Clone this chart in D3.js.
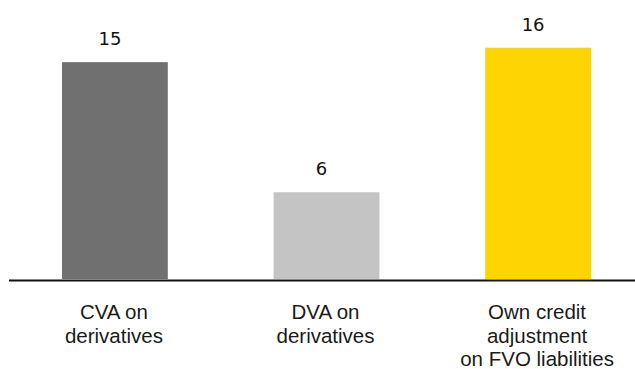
<!DOCTYPE html>
<html>
<head>
<meta charset="utf-8">
<script src="https://cdn.jsdelivr.net/npm/d3@7"></script>
<style>
  html, body { margin: 0; padding: 0; background: #fff; }
  svg { display: block; }
</style>
</head>
<body>
<svg id="chart" width="635" height="369"></svg>
<script>
// Valuation adjustments, by category
const categories = [
  ["CVA on", "derivatives"],
  ["DVA on", "derivatives"],
  ["Own credit", "adjustment", "on FVO liabilities"]
];
const values = [15, 6, 16];
const colors = ["#707070", "#c4c4c4", "#ffd500"];

const svg = d3.select("#chart");
const W = 635, H = 369;
const baseY = 279;

const x = d3.scaleBand()
  .domain(d3.range(values.length))
  .range([62, 591])
  .paddingInner(0.5)
  .paddingOuter(0);

const y = d3.scaleLinear()
  .domain([0, 16])
  .range([baseY, 47.7]);

// bars
svg.selectAll("rect.bar")
  .data(values)
  .join("rect")
  .attr("class", "bar")
  .attr("x", (d, i) => x(i))
  .attr("width", x.bandwidth())
  .attr("y", d => y(d))
  .attr("height", d => y(0) - y(d))
  .attr("fill", (d, i) => colors[i]);

// baseline
svg.append("line")
  .attr("x1", 9).attr("x2", W)
  .attr("y1", y(0) + 1.5).attr("y2", y(0) + 1.5)
  .attr("stroke", "#111")
  .attr("stroke-width", 2);

// value labels
svg.selectAll("text.val")
  .data(values)
  .join("text")
  .attr("class", "val")
  .attr("x", (d, i) => x(i) + x.bandwidth() / 2 - 5)
  .attr("y", d => y(d) - 17)
  .attr("text-anchor", "middle")
  .attr("font-family", "DejaVu Sans, sans-serif")
  .attr("font-size", 18)
  .attr("fill", "#111")
  .text(d => d);

// category labels, one text per line
const lines = categories.flatMap((ls, i) => ls.map((t, j) => ({ t, i, j })));
svg.selectAll("text.cat")
  .data(lines)
  .join("text")
  .attr("class", "cat")
  .attr("text-anchor", "middle")
  .attr("font-family", "Liberation Sans, Arial, sans-serif")
  .attr("font-size", 20.5)
  .attr("fill", "#1a1a1a")
  .attr("x", d => x(d.i) + x.bandwidth() / 2 - 1)
  .attr("y", d => 319 + d.j * 23.5)
  .text(d => d.t);
</script>
</body>
</html>
